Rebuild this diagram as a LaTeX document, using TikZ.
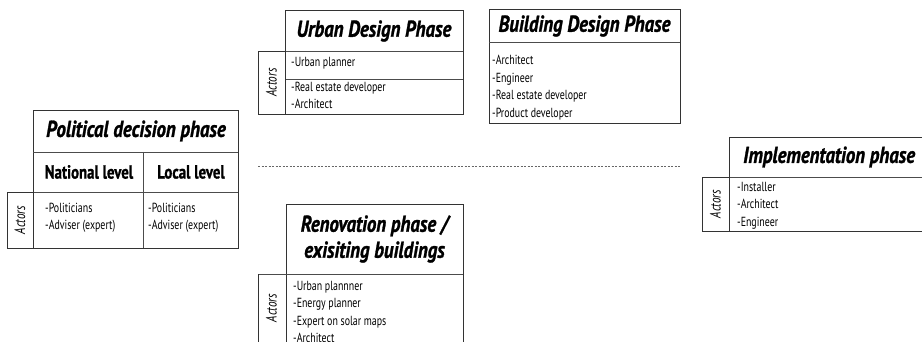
\documentclass[tikz,border=0pt]{standalone}
\usepackage{fontspec}
\setmainfont{PT Sans}[FakeStretch=0.75]
\newfontfamily\ttlfont{PT Sans}[FakeStretch=0.82,FakeBold=1.2]
\newfontfamily\lvlfont{PT Sans}[FakeStretch=0.78,FakeBold=1.0]
\begin{document}
\begin{tikzpicture}[x=1pt,y=-1pt,
  box/.style={draw=black!80,line width=0.9pt},
  sep/.style={draw=black!70,line width=0.7pt},
  ttl/.style={font=\ttlfont\fontsize{23}{24}\selectfont\bfseries\itshape,align=center,inner sep=0pt},
  lvl/.style={font=\lvlfont\fontsize{19}{21}\selectfont\bfseries,inner sep=0pt},
  body/.style={font=\fontsize{13.2}{17.3}\selectfont,align=left,anchor=north west,inner sep=0pt},
  actors/.style={font=\fontsize{15}{16}\selectfont\itshape,rotate=90,inner sep=0pt}]
\useasboundingbox (0,0) rectangle (922,342);
% Political decision phase
\draw[box] (33,110) rectangle (238,248);
\draw[sep] (33,152) -- (238,152);
\draw[sep] (33,192) -- (238,192);
\draw[sep] (143,152) -- (143,248);
\draw[box] (7,192) rectangle (33,248);
\node[ttl] (pt) at (136,131) {Political decision phase};
\node[lvl] (pn) at (89,172) {National level};
\node[lvl] (pl) at (191,172) {Local level};
\node[actors] (pa) at (20,220) {Actors};
\node[body] (pb1) at (45,203) {-Politicians\\-Adviser (expert)};
\node[body] (pb2) at (148,203) {-Politicians\\-Adviser (expert)};
% Urban design phase
\draw[box] (285,10) rectangle (463,114);
\draw[sep] (285,51) -- (463,51);
\draw[sep] (285,79) -- (463,79);
\draw[box] (258,51) rectangle (285,114);
\node[ttl] (ut) at (374,31) {Urban Design Phase};
\node[actors] (ua) at (271.5,82.5) {Actors};
\node[body] (ub1) at (291,57) {-Urban planner};
\node[body] (ub2) at (291,82) {-Real estate developer\\-Architect};
% Building design phase
\draw[box] (489,9) rectangle (680,123);
\draw[sep] (489,42) -- (680,42);
\node[ttl] (bt) at (584.5,26) {Building Design Phase};
\node[body,font=\fontsize{13.2}{17.5}\selectfont] (bb) at (492,55) {-Architect\\-Engineer\\-Real estate developer\\-Product developer};
% dashed separator
\coordinate (d1) at (258,166);
\coordinate (d2) at (680,166);
\draw[black!60,line width=0.8pt,dash pattern=on 2.2pt off 1.3pt] (d1) -- (d2);
% Renovation phase
\draw[box] (286,350) -- (286,204) -- (463,204) -- (463,350);
\draw[sep] (258,274) -- (463,274);
\draw[box] (258,350) -- (258,274);
\node[ttl,font=\ttlfont\fontsize{23}{26}\selectfont\bfseries\itshape] (rt) at (374.5,239) {Renovation phase /\\exisiting buildings};
\node[actors] (ra) at (271.5,308) {Actors};
\node[body] (rb) at (293,281) {-Urban plannner\\-Energy planner\\-Expert on solar maps\\-Architect};
% Implementation phase
\draw[box] (729,137) -- (729,231) -- (930,231);
\draw[box] (729,137) -- (930,137);
\draw[sep] (702,177) -- (930,177);
\draw[box] (702,177) rectangle (729,231);
\node[ttl,anchor=west] (it) at (743,157) {Implementation phase};
\node[actors] (ia) at (715.5,204) {Actors};
\node[body,font=\fontsize{13.2}{17.5}\selectfont] (ib) at (737,182) {-Installer\\-Architect\\-Engineer};
\end{tikzpicture}
\end{document}
